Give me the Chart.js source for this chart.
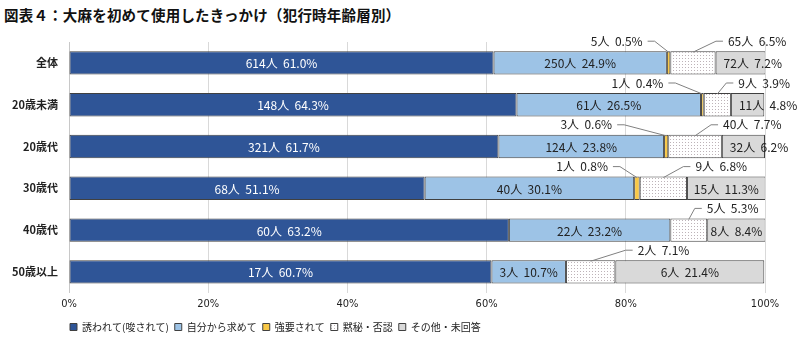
<!DOCTYPE html>
<html lang="ja">
<head>
<meta charset="utf-8">
<script src="https://cdn.jsdelivr.net/npm/chart.js@4.4.1/dist/chart.umd.min.js"></script>
<style>
  html, body { margin: 0; padding: 0; background: #fff; }
  #wrap { position: relative; width: 810px; height: 349px; }
  #title {
    position: absolute; left: 4px; top: 4px;
    font: bold 14.5px "Noto Sans CJK JP", sans-serif; color: #111;
    letter-spacing: 0.2px;
  }
  canvas { position: absolute; left: 0; top: 0; }
</style>
</head>
<body>
<div id="wrap">
  <div id="title">図表４：大麻を初めて使用したきっかけ（犯行時年齢層別）</div>
  <canvas id="reasonChart" width="810" height="349"></canvas>
</div>
<script>
// Age groups -------------------------------------------------------------------
const ageGroups = ['全体', '20歳未満', '20歳代', '30歳代', '40歳代', '50歳以上'];

const reasonNames = ['誘われて(唆されて)', '自分から求めて', '強要されて', '黙秘・否認', 'その他・未回答'];

// headcounts per reason
const invitedCount = [614, 148, 321, 68, 60, 17];
const selfCount    = [250, 61, 124, 40, 22, 3];
const forcedCount  = [5, 1, 3, 1, 0, 0];
const silentCount  = [65, 9, 40, 9, 5, 2];
const otherCount   = [72, 11, 32, 15, 8, 6];

// share of each age group (%)
const invitedPct = [61.0, 64.3, 61.7, 51.1, 63.2, 60.7];
const selfPct    = [24.9, 26.5, 23.8, 30.1, 23.2, 10.7];
const forcedPct  = [0.5, 0.4, 0.6, 0.8, 0, 0];
const silentPct  = [6.5, 3.9, 7.7, 6.8, 5.3, 7.1];
const otherPct   = [7.2, 4.8, 6.2, 11.3, 8.4, 21.4];

const xTicks = [0, 20, 40, 60, 80, 100];

const counts = [invitedCount, selfCount, forcedCount, silentCount, otherCount];
const pcts = [invitedPct, selfPct, forcedPct, silentPct, otherPct];

// dotted fill for 黙秘・否認
function dotPattern() {
    const c = document.createElement('canvas');
    c.width = 3; c.height = 3;
    const g = c.getContext('2d');
    g.fillStyle = '#ffffff';
    g.fillRect(0, 0, 3, 3);
    g.fillStyle = '#bdb3b8';
    g.fillRect(1, 1, 1, 1);
    return g.createPattern(c, 'repeat');
}

const fills = ['#2f5597', '#9dc3e6', '#f9c846', dotPattern(), '#d9d9d9'];

const LABEL_FONT = '12px "Noto Sans CJK JP", sans-serif';

// labels inside the bars and the callouts above them
const barLabels = {
    id: 'barLabels',
    afterDatasetsDraw(chart, args, opts) {
        const ctx = chart.ctx;
        ctx.save();
        ctx.font = LABEL_FONT;
        ctx.textBaseline = 'middle';
        chart.data.datasets.forEach((ds, d) => {
            const meta = chart.getDatasetMeta(d);
            meta.data.forEach((bar, i) => {
                if (!ds.data[i]) return;
                const p = bar.getProps(['x', 'y', 'base', 'height'], true);
                const text = counts[d][i] + '人  ' + pcts[d][i].toFixed(1) + '%';
                const left = Math.min(p.x, p.base), right = Math.max(p.x, p.base);
                const top = p.y - p.height / 2;
                const w = ctx.measureText(text).width;
                if (d === 2 || d === 3) {
                    const ax = (left + right) / 2;
                    const ty = top - 10;
                    ctx.strokeStyle = '#808080';
                    ctx.lineWidth = 1;
                    ctx.fillStyle = '#222';
                    ctx.beginPath();
                    if (d === 2) {
                        const tr = ax - opts.forcedLead[i];
                        ctx.textAlign = 'right';
                        ctx.fillText(text, tr, ty);
                        ctx.moveTo(tr + 5, ty);
                        ctx.lineTo(tr + 12, ty);
                        ctx.lineTo(ax, top + 1);
                    } else {
                        const tl = ax + opts.silentLead[i];
                        ctx.textAlign = 'left';
                        ctx.fillText(text, tl, ty);
                        ctx.moveTo(ax, top + 1);
                        ctx.lineTo(tl - 12, ty);
                        ctx.lineTo(tl - 5, ty);
                    }
                    ctx.stroke();
                    return;
                }
                ctx.fillStyle = d === 0 ? '#ffffff' : '#222';
                if (w > right - left - 4) {
                    ctx.textAlign = 'left';
                    ctx.fillText(text, left + 8, p.y + 1);
                } else {
                    ctx.textAlign = 'center';
                    ctx.fillText(text, (left + right) / 2, p.y + 1);
                }
            });
        });
        ctx.restore();
    }
};

// pull the legend back to the left edge of the plot
const legendShift = {
    id: 'legendShift',
    afterLayout(chart) {
        if (chart.legend) chart.legend.left = chart.chartArea.left - 5;
    }
};

new Chart(document.getElementById('reasonChart').getContext('2d'), {
    type: 'bar',
    data: {
        labels: ageGroups,
        datasets: reasonNames.map((name, d) => ({
            label: name,
            data: pcts[d],
            backgroundColor: fills[d],
            borderColor: '#404040',
            borderWidth: 1,
            borderSkipped: false,
            barPercentage: 0.56,
            categoryPercentage: 1
        }))
    },
    options: {
        indexAxis: 'y',
        responsive: false,
        animation: false,
        layout: { padding: { left: 5, right: 45, top: 42, bottom: 7 } },
        scales: {
            x: {
                stacked: true,
                min: 0,
                max: 100,
                afterBuildTicks: (s) => { s.ticks = xTicks.map(v => ({ value: v })); },
                ticks: {
                    callback: v => v + '%',
                    font: { family: '"DejaVu Sans Condensed", sans-serif', size: 11 },
                    color: '#222',
                    padding: 5
                },
                grid: { color: '#d9d9d9', drawTicks: false },
                border: { display: false }
            },
            y: {
                stacked: true,
                afterFit: (s) => { s.width = 64; },
                ticks: {
                    font: { family: '"Noto Sans CJK JP", sans-serif', size: 11, weight: 'bold' },
                    color: '#222',
                    padding: 11
                },
                grid: { display: false, drawTicks: false },
                border: { color: '#c8c8c8' }
            }
        },
        plugins: {
            legend: {
                position: 'bottom',
                align: 'start',
                fullSize: false,
                labels: {
                    boxWidth: 7,
                    boxHeight: 7,
                    padding: 6,
                    color: '#222',
                    font: { family: '"Noto Sans CJK JP", sans-serif', size: 10 }
                }
            },
            tooltip: { enabled: false },
            barLabels: {
                forcedLead: [26, 39, 54, 29, 0, 0],
                silentLead: [35, 21, 28, 32, 18, 47]
            }
        }
    },
    plugins: [barLabels, legendShift]
});
</script>
</body>
</html>
